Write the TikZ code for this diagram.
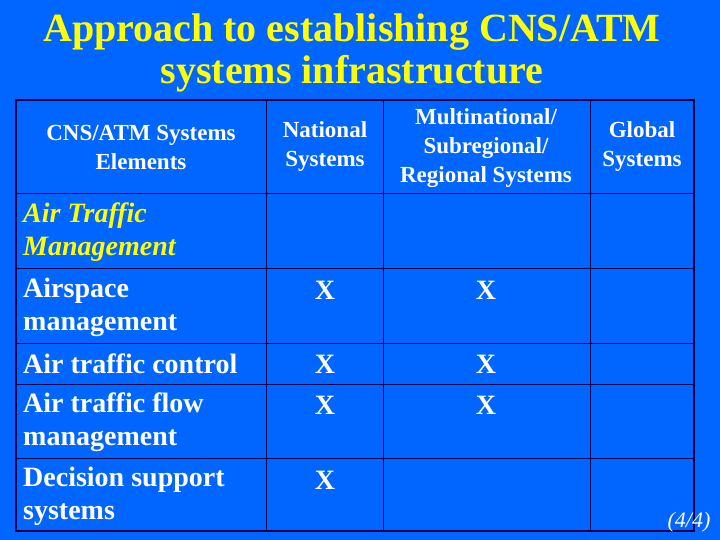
\documentclass[tikz,border=0pt]{standalone}
\usepackage{fontspec}
\setmainfont{Liberation Serif}
\definecolor{bg}{RGB}{0,102,255}
\definecolor{ttl}{RGB}{255,255,0}
\definecolor{grid}{RGB}{0,0,70}
\begin{document}
\begin{tikzpicture}[x=1pt,y=-1pt,
 hdr/.style={text=white,font=\bfseries\fontsize{23}{29}\selectfont,align=center},
 body/.style={text=white,font=\bfseries\fontsize{28}{33}\selectfont,align=left,anchor=west,inner sep=0pt},
 xmark/.style={text=white,font=\bfseries\fontsize{28}{33}\selectfont}]
\fill[bg] (0,0) rectangle (720,540);
\useasboundingbox (0,0) rectangle (720,540);
\node[text=ttl,font=\bfseries\fontsize{40}{42}\selectfont,align=center] (title) at (352,53) {Approach to establishing CNS/ATM\\systems infrastructure};
% grid
\draw[grid,line width=0.8pt] (16,193)--(694,193) (16,268)--(694,268) (16,343)--(694,343) (16,384)--(694,384) (16,458)--(694,458)
 (266,100)--(266,531) (383,100)--(383,531) (590,100)--(590,531);
\draw[grid,line width=2pt] (16,100) rectangle (694,531);
\node[hdr] (h1) at (141,147) {CNS/ATM Systems\\Elements};
\node[hdr] (h2) at (325,147) {National\\Systems};
\node[hdr] (h3) at (486,148) {Multinational/\\Subregional/\\Regional Systems};
\node[hdr] (h4) at (642,147) {Global\\Systems};
\node[body,text=ttl,font=\bfseries\itshape\fontsize{28}{33}\selectfont] (r0) at (23,232) {Air Traffic\\Management};
\node[body] (r1) at (23,307) {Airspace\\management};
\node[body] (r2) at (23,364) {Air traffic control};
\node[body] (r3) at (23,422) {Air traffic flow\\management};
\node[body] (r4) at (23,496) {Decision support\\systems};
\node[xmark] (x11) at (325,290) {X};
\node[xmark] (x12) at (486,290) {X};
\node[xmark] (x21) at (325,364) {X};
\node[xmark] (x22) at (486,364) {X};
\node[xmark] (x31) at (325,405) {X};
\node[xmark] (x32) at (486,405) {X};
\node[xmark] (x41) at (325,480) {X};
\node[text=white,font=\itshape\fontsize{22}{24}\selectfont] (pg) at (689,522) {(4/4)};
\end{tikzpicture}
\end{document}
